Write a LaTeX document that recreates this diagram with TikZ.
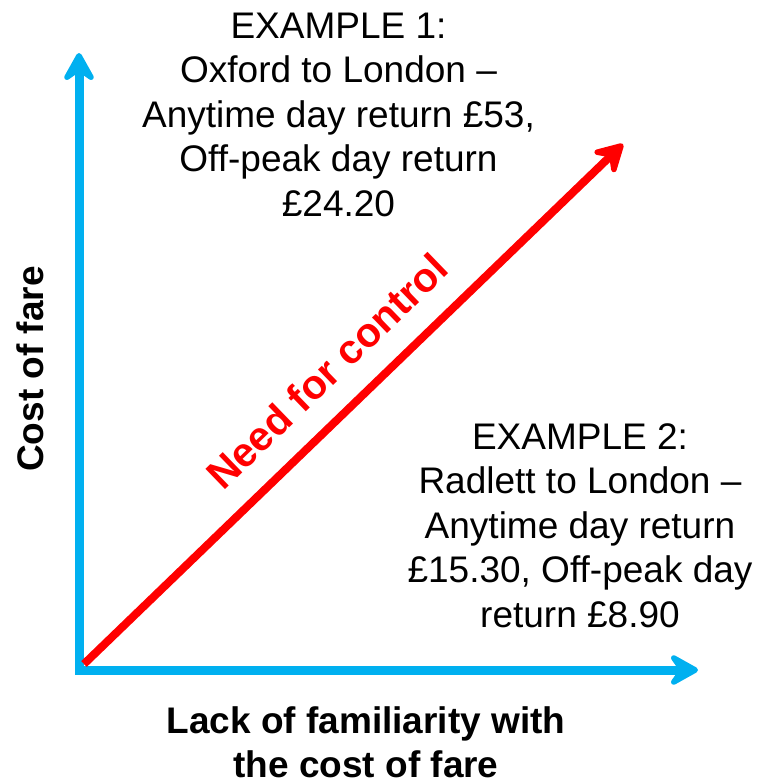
\documentclass[tikz,border=0pt]{standalone}
\usepackage{fontspec}
\setmainfont{Liberation Sans}
\usetikzlibrary{arrows.meta}

\definecolor{axisblue}{HTML}{00B0F0}
\definecolor{ctrlred}{HTML}{FF0000}

\tikzset{
	axis/.style={draw=axisblue, line width=9pt, {Stealth[round,line width=6pt,length=36pt,width=40pt,inset=14pt]}-{Stealth[round,line width=6pt,length=36pt,width=40pt,inset=14pt]}},
	ctrl/.style={draw=ctrlred, line width=8pt, -{Stealth[round,line width=6pt,length=36pt,width=40pt,inset=14pt]}},
	example/.style={align=center, inner sep=0pt, font=\fontsize{37}{44.5}\selectfont},
	axislabel/.style={align=center, inner sep=0pt, font=\fontsize{37}{44}\selectfont\bfseries},
}

\begin{document}
\begin{tikzpicture}[x=1pt,y=-1pt]
	\useasboundingbox (0,0) rectangle (758,780);

	\coordinate (origin) at (79,670);
	\coordinate (ytip) at (79,53);
	\coordinate (xtip) at (698,670);
	\coordinate (ctrlstart) at (84,664);
	\coordinate (ctrltip) at (623,144);

	\draw[axis] (ytip) -- (origin) -- (xtip);
	\draw[ctrl] (ctrlstart) -- (ctrltip);

	% base anchor = baseline of the last line
	\node[example, anchor=base] (ex1) at (338.5,216) {EXAMPLE 1:\\Oxford to London --\\Anytime day return £53,\\Off-peak day return\\£24.20};
	\node[example, anchor=base] (ex2) at (580,627) {EXAMPLE 2:\\Radlett to London --\\Anytime day return\\£15.30, Off-peak day\\return £8.90};

	\node[axislabel, anchor=base, rotate=90] (costlabel) at (43,369) {Cost of fare};
	\node[axislabel, anchor=base] (lacklabel) at (366,777) {Lack of familiarity with\\the cost of fare};
	\node[axislabel, anchor=base, rotate=44, text=ctrlred, font=\fontsize{41}{44}\selectfont\bfseries] (needlabel) at (337,382) {Need for control};
\end{tikzpicture}
\end{document}
